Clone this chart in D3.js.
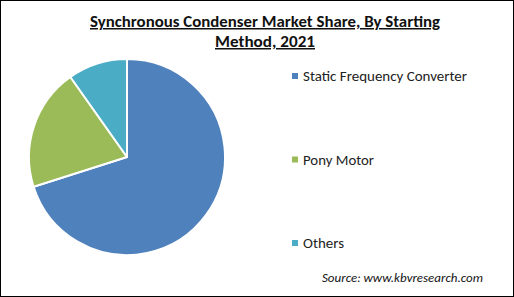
<!DOCTYPE html>
<html><head><meta charset="utf-8">
<script src="https://cdn.jsdelivr.net/npm/d3@7"></script>
<style>body{margin:0;background:#fff}svg{display:block}</style>
</head><body>
<script>
const categories = ["Static Frequency Converter", "Pony Motor", "Others"];
const shares = [70.1, 20.1, 9.8];
const colors = ["#4F81BD", "#9BBB59", "#4BACC6"];
const legendWidths = [164, 71, 41];
const titleLines = ["Synchronous Condenser Market Share, By Starting", "Method, 2021"];
const sourceText = "Source:  www.kbvresearch.com";

const W = 514, H = 297;
const svg = d3.select("body").append("svg").attr("width", W).attr("height", H);
svg.append("rect").attr("x", 0.5).attr("y", 0.5).attr("width", W - 1).attr("height", H - 1)
  .attr("fill", "#fff").attr("stroke", "#000").attr("stroke-width", 1);

const font = "Carlito, Calibri, 'Open Sans', sans-serif";
const tl = [[265, 27, 350], [265, 47, 100]];
titleLines.forEach((t, i) => {
  svg.append("text").attr("x", tl[i][0]).attr("y", tl[i][1]).attr("text-anchor", "middle")
    .attr("font-family", font).attr("font-weight", "bold").attr("font-size", 15)
    .attr("text-decoration", "underline").attr("fill", "#111")
    .attr("textLength", tl[i][2]).attr("lengthAdjust", "spacingAndGlyphs").text(t);
});

const cx = 127, cy = 157, r = 98;
const color = d3.scaleOrdinal().domain(categories).range(colors);
const pie = d3.pie().sort(null).value(d => d.v);
const data = categories.map((c, i) => ({c, v: shares[i]}));
const arc = d3.arc().innerRadius(0).outerRadius(r);
svg.append("g").attr("transform", `translate(${cx},${cy})`)
  .selectAll("path").data(pie(data)).join("path")
  .attr("d", arc).attr("fill", d => color(d.data.c))
  .attr("stroke", "#fff").attr("stroke-width", 2).attr("stroke-linejoin", "round");

const ly = d3.scalePoint().domain(categories).range([76, 243]);
const lg = svg.append("g");
categories.forEach((c, i) => {
  lg.append("rect").attr("x", 292).attr("y", ly(c) - 3).attr("width", 6).attr("height", 6)
    .attr("fill", color(c));
  lg.append("text").attr("x", 303).attr("y", ly(c) + 5).attr("font-family", font)
    .attr("font-size", 14).attr("fill", "#222")
    .attr("textLength", legendWidths[i]).attr("lengthAdjust", "spacingAndGlyphs").text(c);
});

svg.append("text").attr("x", 322).attr("y", 282).attr("font-family", font)
  .attr("font-style", "italic").attr("font-size", 11.5).attr("fill", "#111")
  .attr("textLength", 161).attr("lengthAdjust", "spacingAndGlyphs").text(sourceText);
</script>
</body></html>
